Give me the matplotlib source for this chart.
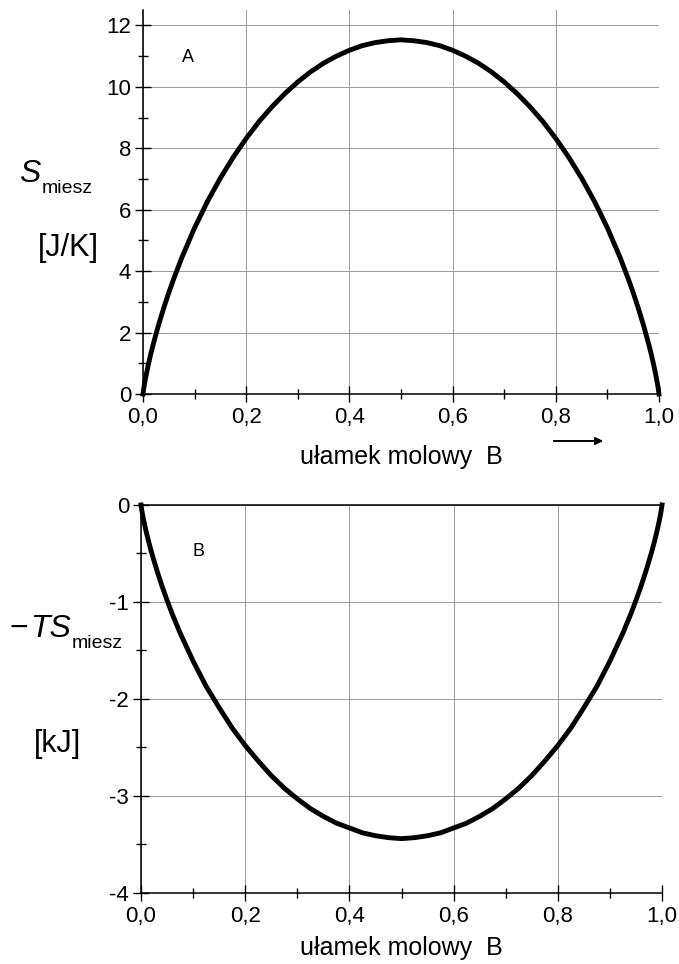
import matplotlib
matplotlib.use("Agg")
import matplotlib.pyplot as plt
from matplotlib.ticker import MultipleLocator

plt.rcParams['font.family'] = ['Liberation Sans', 'DejaVu Sans']

# mole fraction of B
x_frac = [0.0, 0.001, 0.0025, 0.005, 0.01, 0.015, 0.02, 0.03, 0.04, 0.05, 0.06, 0.075,
          0.1, 0.125, 0.15, 0.175, 0.2, 0.225, 0.25, 0.275, 0.3, 0.325, 0.35, 0.375,
          0.4, 0.425, 0.45, 0.475, 0.5,
          0.525, 0.55, 0.575, 0.6, 0.625, 0.65, 0.675, 0.7, 0.725, 0.75, 0.775, 0.8,
          0.825, 0.85, 0.875, 0.9, 0.925, 0.94, 0.95, 0.96, 0.97, 0.98, 0.985, 0.99,
          0.995, 0.9975, 0.999, 1.0]
# mixing entropy [J/K]
s_mix = [0.0, 0.13, 0.29, 0.52, 0.93, 1.30, 1.63, 2.24, 2.79, 3.30, 3.77, 4.43,
         5.41, 6.27, 7.03, 7.71, 8.32, 8.87, 9.35, 9.78, 10.16, 10.49, 10.77, 11.00,
         11.19, 11.34, 11.44, 11.50, 11.53,
         11.50, 11.44, 11.34, 11.19, 11.00, 10.77, 10.49, 10.16, 9.78, 9.35, 8.87, 8.32,
         7.71, 7.03, 6.27, 5.41, 4.43, 3.77, 3.30, 2.79, 2.24, 1.63, 1.30, 0.93,
         0.52, 0.29, 0.13, 0.0]
# -T*S_mix [kJ]
ts_mix = [0.0, -0.039, -0.087, -0.156, -0.278, -0.386, -0.486, -0.667, -0.832, -0.983, -1.125, -1.32,
          -1.61, -1.87, -2.09, -2.30, -2.48, -2.64, -2.79, -2.92, -3.03, -3.13, -3.21, -3.28,
          -3.33, -3.38, -3.41, -3.43, -3.44,
          -3.43, -3.41, -3.38, -3.33, -3.28, -3.21, -3.13, -3.03, -2.92, -2.79, -2.64, -2.48,
          -2.30, -2.09, -1.87, -1.61, -1.32, -1.125, -0.983, -0.832, -0.667, -0.486, -0.386, -0.278,
          -0.156, -0.087, -0.039, 0.0]

x_ticks = [0.0, 0.2, 0.4, 0.6, 0.8, 1.0]
x_ticklabels = ["0,0", "0,2", "0,4", "0,6", "0,8", "1,0"]
y1_ticks = [0, 2, 4, 6, 8, 10, 12]
y1_ticklabels = ["0", "2", "4", "6", "8", "10", "12"]
y2_ticks = [-4, -3, -2, -1, 0]
y2_ticklabels = ["-4", "-3", "-2", "-1", "0"]
xlabel = "ułamek molowy  B"

W, H = 679, 964
fig = plt.figure(figsize=(W / 100, H / 100), dpi=100)
ax1 = fig.add_axes([0.2106, 0.5913, 0.7599, 0.3983])
ax2 = fig.add_axes([0.2077, 0.0737, 0.7673, 0.4025])


def fx(px):
    return px / W


def fy(py):
    return 1 - py / H


def style(ax, minor_y):
    ax.set_xlim(0, 1)
    ax.set_xticks(x_ticks)
    ax.set_xticklabels(x_ticklabels)
    ax.xaxis.set_minor_locator(MultipleLocator(0.1))
    ax.yaxis.set_minor_locator(MultipleLocator(minor_y))
    ax.grid(True, which='major', color='#9a9a9a', lw=0.7)
    ax.set_axisbelow(True)
    for s in ['right', 'top']:
        ax.spines[s].set_visible(False)
    for s in ['left', 'bottom']:
        ax.spines[s].set_linewidth(1.1)
    ax.tick_params(which='major', direction='inout', length=11, width=1.0, labelsize=16)
    ax.tick_params(axis='x', which='major', pad=4)
    ax.tick_params(axis='y', which='major', pad=3)
    ax.tick_params(which='minor', direction='inout', length=6.5, width=1.0)


# top panel
ax1.plot(x_frac, s_mix, color='black', lw=3.5, solid_joinstyle='round', clip_on=False, zorder=3)
ax1.set_ylim(0, 12.5)
ax1.set_yticks(y1_ticks)
ax1.set_yticklabels(y1_ticklabels)
style(ax1, 1)
fig.text(fx(188), fy(58), "A", fontsize=13, ha='center', va='center')
fig.text(fx(401), fy(457), xlabel, fontsize=18, ha='center', va='center')
fig.text(fx(19), fy(182), "S", fontsize=23, fontstyle='italic', ha='left', va='baseline')
fig.text(fx(42), fy(193), "miesz", fontsize=14, ha='left', va='baseline')
fig.text(fx(68), fy(248), "[J/K]", fontsize=22, ha='center', va='center')
fig.add_artist(matplotlib.patches.FancyArrowPatch(
    (fx(551), fy(441)), (fx(606), fy(441)), transform=fig.transFigure,
    arrowstyle='-|>', color='black', lw=1.4, mutation_scale=11))

# bottom panel
ax2.plot(x_frac, ts_mix, color='black', lw=3.5, solid_joinstyle='round', clip_on=False, zorder=3)
ax2.set_ylim(-4, 0)
ax2.set_yticks(y2_ticks)
ax2.set_yticklabels(y2_ticklabels)
style(ax2, 0.5)
ax2.spines['top'].set_visible(True)
ax2.spines['top'].set_linewidth(1.1)
fig.text(fx(199), fy(551), "B", fontsize=13, ha='center', va='center')
fig.text(fx(401), fy(948), xlabel, fontsize=18, ha='center', va='center')
fig.text(fx(9), fy(637), "\u2212", fontsize=23, ha='left', va='baseline')
fig.text(fx(30), fy(637), "TS", fontsize=23, fontstyle='italic', ha='left', va='baseline')
fig.text(fx(72), fy(648), "miesz", fontsize=14, ha='left', va='baseline')
fig.text(fx(58), fy(744), "[kJ]", fontsize=22, ha='center', va='center')

fig.savefig("out.png", dpi=100)
